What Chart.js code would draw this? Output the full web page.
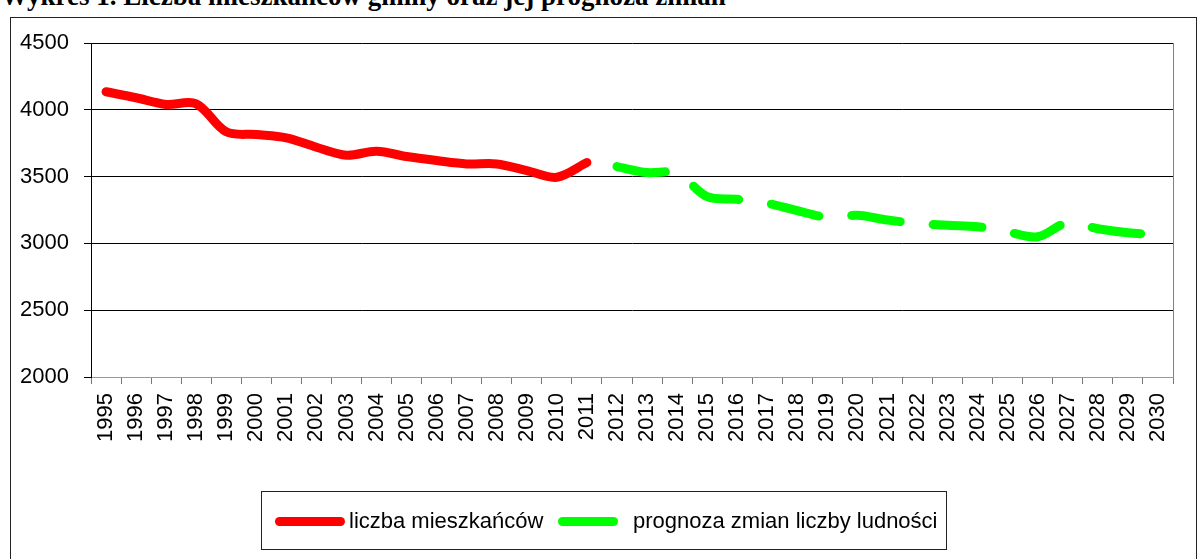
<!DOCTYPE html>
<html>
<head>
<meta charset="utf-8">
<script src="https://cdn.jsdelivr.net/npm/chart.js@4/dist/chart.umd.min.js"></script>
<style>
  body { margin: 0; background: #fff; width: 1198px; height: 559px; overflow: hidden; position: relative; }
  #title { position: absolute; left: 1px; top: -17px; font: bold 27px "Liberation Serif", serif; line-height: 27px; white-space: nowrap; color: #000; }
  #frame { position: absolute; left: 10px; top: 17px; width: 1185px; height: 600px; border: 1px solid #222; }
  #myChart { position: absolute; left: 0; top: 0; }
  #legend { position: absolute; left: 261px; top: 491px; width: 684px; height: 57px; border: 1px solid #222; font: 22px "Liberation Sans", Arial, sans-serif; color: #000; }
  #legend .sample { position: absolute; top: 25px; height: 9px; border-radius: 5px; }
  #legend .txt { position: absolute; top: 14px; line-height: 30px; white-space: nowrap; }
</style>
</head>
<body>
<div id="title">Wykres 1. Liczba mieszkańców gminy oraz jej prognoza zmian</div>
<div id="frame"></div>
<canvas id="myChart" width="1198" height="559"></canvas>
<div id="legend">
  <span class="sample" id="s1" style="left:13px;width:70px"></span>
  <span class="txt" id="t1" style="left:87px"></span>
  <span class="sample" id="s2" style="left:296px;width:60px"></span>
  <span class="txt" id="t2" style="left:371px"></span>
</div>
<script>
const years = ['1995', '1996', '1997', '1998', '1999', '2000', '2001', '2002', '2003', '2004', '2005', '2006',
    '2007', '2008', '2009', '2010', '2011', '2012', '2013', '2014', '2015', '2016', '2017', '2018',
    '2019', '2020', '2021', '2022', '2023', '2024', '2025', '2026', '2027', '2028', '2029', '2030'];
// liczba mieszkańców 1995-2011
const residents = [4135, 4090, 4040, 4045, 3835, 3815, 3790, 3720, 3660, 3690, 3650, 3620, 3595, 3595, 3545, 3495, 3605];
// prognoza 2012-2030
const forecast = [3575, 3530, 3525, 3350, 3330, 3300, 3245, 3195, 3210, 3175, 3150, 3135, 3125, 3085, 3050, 3155, 3110, 3080, 3065];
const yTicks = [2000, 2500, 3000, 3500, 4000, 4500];
const labels = ['liczba mieszkańców', 'prognoza zmian liczby ludności'];
const red = '#ff0000';
const green = '#00ff00';

const redData = years.map((y, i) => i < residents.length ? residents[i] : null);
const greenData = years.map((y, i) => i >= residents.length ? forecast[i - residents.length] : null);

document.getElementById('t1').textContent = labels[0];
document.getElementById('t2').textContent = labels[1];
document.getElementById('s1').style.background = red;
document.getElementById('s2').style.background = green;

const tickFont = { family: '"Liberation Sans", Arial, sans-serif', size: 22 };

// szara ramka obszaru wykresu z prawej strony
const plotBorder = {
    id: 'plotBorder',
    afterDraw(chart) {
        const a = chart.chartArea;
        const c = chart.ctx;
        c.save();
        c.strokeStyle = '#808080';
        c.lineWidth = 1;
        c.beginPath();
        c.moveTo(a.right + 0.5, a.top);
        c.lineTo(a.right + 0.5, a.bottom);
        c.stroke();
        c.restore();
    }
};

const ctx = document.getElementById('myChart').getContext('2d');

const myLineChart = new Chart(ctx, {
    type: 'line',
    data: {
        labels: years,
        datasets: [{
            label: labels[0],
            data: redData,
            borderColor: red,
            backgroundColor: red,
            borderWidth: 9,
            borderCapStyle: 'round',
            borderJoinStyle: 'round',
            pointRadius: 0,
            tension: 0.33,
            fill: false
        }, {
            label: labels[1],
            data: greenData,
            borderColor: green,
            backgroundColor: green,
            borderWidth: 9,
            borderCapStyle: 'round',
            borderJoinStyle: 'round',
            borderDash: [49, 33],
            pointRadius: 0,
            tension: 0.33,
            fill: false
        }]
    },
    options: {
        responsive: false,
        maintainAspectRatio: false,
        animation: false,
        layout: {
            padding: {top: 43, right: 25, bottom: 0, left: 0}
        },
        scales: {
            x: {
                offset: true,
                grid: {
                    offset: true,
                    drawOnChartArea: false,
                    drawTicks: true,
                    tickLength: 7,
                    color: '#777'
                },
                border: { color: '#999', width: 1 },
                ticks: {
                    font: tickFont,
                    color: '#000',
                    minRotation: 90,
                    maxRotation: 90,
                    autoSkip: false,
                    padding: 9
                },
                afterFit(scale) { scale.height = 182; }
            },
            y: {
                min: 2000,
                max: 4500,
                afterBuildTicks(scale) { scale.ticks = yTicks.map(v => ({value: v})); },
                grid: {
                    color: '#000',
                    lineWidth: 1,
                    drawTicks: true,
                    tickLength: 7
                },
                border: { color: '#000', width: 1 },
                ticks: {
                    font: tickFont,
                    color: '#000',
                    padding: 15,
                    callback: (v) => String(v)
                },
                afterFit(scale) { scale.width = 91; }
            }
        },
        plugins: {
            legend: { display: false },
            tooltip: { enabled: false }
        }
    },
    plugins: [plotBorder]
});
</script>
</body>
</html>
